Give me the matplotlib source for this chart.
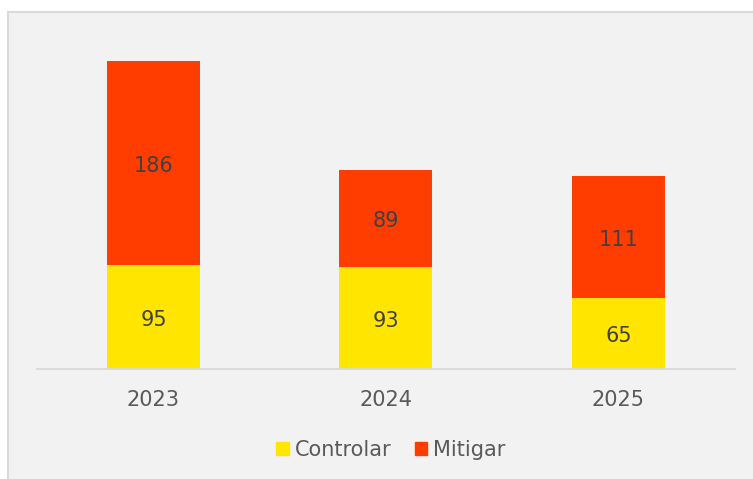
import numpy as np
import matplotlib
matplotlib.use('Agg')
import matplotlib.pyplot as plt
from matplotlib.patches import Rectangle, Patch

# datos
anios = ['2023', '2024', '2025']
controlar = [95, 93, 65]
mitigar = [186, 89, 111]

amarillo = '#FFE500'
rojo = '#FF3D00'
gris_txt = '#595959'

fig = plt.figure(figsize=(7.53, 4.79), dpi=100)
fig.patch.set_facecolor('white')

# fondo del grafico (estilo excel)
fondo = Rectangle((8/753, -0.05), 1.2, 1.05 + (479-12)/479 - 1, transform=fig.transFigure,
                  facecolor='#F2F2F2', edgecolor='#D9D9D9', linewidth=1.5, zorder=0)
fig.patches.append(fondo)

ax = fig.add_axes([37.25/753, (479-369)/479, 697.5/753, 328.8/479])
ax.set_facecolor('none')
ax.set_zorder(2)

x = np.arange(len(anios))
ancho = 0.4
b1 = ax.bar(x, controlar, ancho, color=amarillo, label='Controlar', zorder=2)
b2 = ax.bar(x, mitigar, ancho, bottom=controlar, color=rojo, label='Mitigar', zorder=2)

# etiquetas dentro de las barras
for i in range(len(anios)):
    ax.annotate('%i' % controlar[i], (x[i], controlar[i]/2), xytext=(0, -2),
                textcoords='offset points', ha='center', va='center',
                fontsize=15, color='#404040', zorder=3)
    ax.annotate('%i' % mitigar[i], (x[i], controlar[i] + mitigar[i]/2), xytext=(0, -2),
                textcoords='offset points', ha='center', va='center',
                fontsize=15, color='#404040', zorder=3)

ax.set_xlim(-0.5, 2.5)
ax.set_ylim(0, 300)
ax.set_xticks(x)
ax.set_xticklabels(anios, fontsize=15, color=gris_txt)
ax.tick_params(axis='x', length=0, pad=15)
ax.set_yticks([])
for s in ['top', 'right', 'left']:
    ax.spines[s].set_visible(False)
ax.spines['bottom'].set_color('#D9D9D9')
ax.spines['bottom'].set_linewidth(1.3)

handles = [Patch(color=amarillo, label='Controlar'), Patch(color=rojo, label='Mitigar')]
leg = fig.legend(handles=handles, loc='center', bbox_to_anchor=(391/753, (479-450)/479),
                 ncol=2, frameon=False, fontsize=15, handlelength=0.6, handleheight=0.6,
                 handletextpad=0.3, columnspacing=1.1, borderpad=0)
leg.set_zorder(3)
for t in leg.get_texts():
    t.set_color(gris_txt)

fig.savefig('out.png', dpi=100)
